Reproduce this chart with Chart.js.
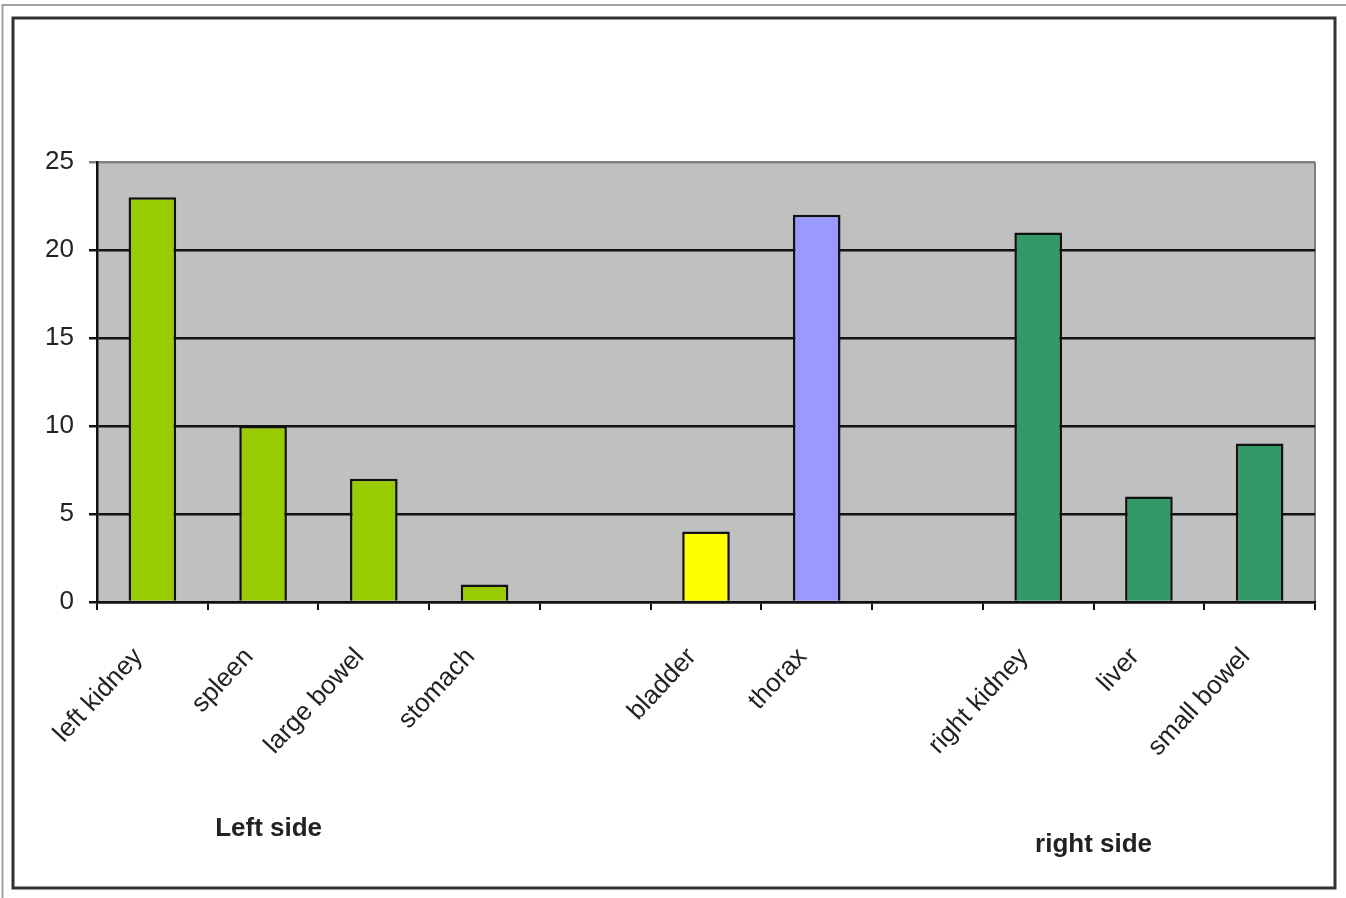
<!DOCTYPE html>
<html>
<head>
<meta charset="utf-8">
<script src="https://cdn.jsdelivr.net/npm/chart.js@4/dist/chart.umd.min.js"></script>
<style>
  html, body { margin: 0; padding: 0; background: #fff; }
  #wrap { width: 1346px; height: 898px; position: relative; }
</style>
</head>
<body>
<div id="wrap"><canvas id="c"></canvas></div>
<script>
// organ categories (blank slots are the gaps between groups)
const categories = ['left kidney', 'spleen', 'large bowel', 'stomach', '', 'bladder', 'thorax', '', 'right kidney', 'liver', 'small bowel']
const counts = [23, 10, 7, 1, null, 4, 22, null, 21, 6, 9]
const yTicks = [0, 5, 10, 15, 20, 25]
const sideLabels = ['Left side', 'right side']

const GREEN = '#99cc00'
const YELLOW = '#ffff00'
const LAVENDER = '#9999ff'
const SEA = '#339966'
const barColors = [GREEN, GREEN, GREEN, GREEN, GREEN, YELLOW, LAVENDER, SEA, SEA, SEA, SEA]

const frame = {
    id: 'frame',
    beforeDraw(chart) {
        const { ctx, chartArea: a } = chart
        ctx.save()
        // outer light frame
        ctx.strokeStyle = '#a0a0a0'
        ctx.lineWidth = 2
        ctx.beginPath()
        ctx.moveTo(2.5, 898)
        ctx.lineTo(2.5, 5)
        ctx.lineTo(1346, 5)
        ctx.stroke()
        // inner dark frame
        ctx.strokeStyle = '#333'
        ctx.lineWidth = 3
        ctx.strokeRect(13, 18, 1322, 870)
        // plot background
        ctx.fillStyle = '#c0c0c0'
        ctx.fillRect(a.left, a.top, a.right - a.left, a.bottom - a.top)
        ctx.strokeStyle = '#808080'
        ctx.lineWidth = 2
        ctx.beginPath()
        ctx.moveTo(a.right, a.bottom)
        ctx.lineTo(a.right, a.top)
        ctx.stroke()
        ctx.restore()
    },
    afterDraw(chart) {
        const { ctx } = chart
        const x = chart.scales.x
        ctx.save()
        ctx.fillStyle = '#222'
        ctx.font = 'bold 26px "Liberation Sans", Arial, sans-serif'
        ctx.textAlign = 'center'
        ctx.textBaseline = 'middle'
        ctx.fillText(sideLabels[0], x.getPixelForValue(1.05), 829)
        ctx.fillText(sideLabels[1], x.getPixelForValue(8.5), 845)
        ctx.restore()
    }
}

const canvas = document.getElementById('c')
new Chart(canvas, {
    type: 'bar',
    data: {
        labels: categories,
        datasets: [{
            data: counts,
            backgroundColor: barColors,
            borderColor: '#111',
            borderWidth: 2.5,
            barPercentage: 0.43,
            categoryPercentage: 1
        }]
    },
    options: {
        responsive: true,
        maintainAspectRatio: false,
        animation: false,
        layout: { padding: { top: 162, right: 31, left: 0, bottom: 0 } },
        plugins: {
            legend: { display: false },
            tooltip: { enabled: false }
        },
        scales: {
            x: {
                afterFit: s => { s.height = 296 },
                grid: {
                    offset: true,
                    drawOnChartArea: false,
                    drawTicks: true,
                    tickLength: 8,
                    color: '#111',
                    lineWidth: 2
                },
                border: { color: '#111', width: 2.5 },
                ticks: {
                    autoSkip: false,
                    minRotation: 47,
                    maxRotation: 47,
                    padding: 32,
                    labelOffset: -14,
                    color: '#222',
                    font: { family: '"Liberation Sans", Arial, sans-serif', size: 26 }
                }
            },
            y: {
                min: 0,
                max: 25,
                afterFit: s => { s.width = 97 },
                afterBuildTicks: s => { s.ticks = yTicks.map(v => ({ value: v })) },
                grid: {
                    color: c => c.tick && c.tick.value === 25 ? '#808080' : '#111',
                    lineWidth: 2.5,
                    tickLength: 8
                },
                border: { color: '#111', width: 2.5 },
                ticks: {
                    padding: 15,
                    color: '#222',
                    font: { family: '"Liberation Sans", Arial, sans-serif', size: 26 }
                }
            }
        }
    },
    plugins: [frame]
})
</script>
</body>
</html>
